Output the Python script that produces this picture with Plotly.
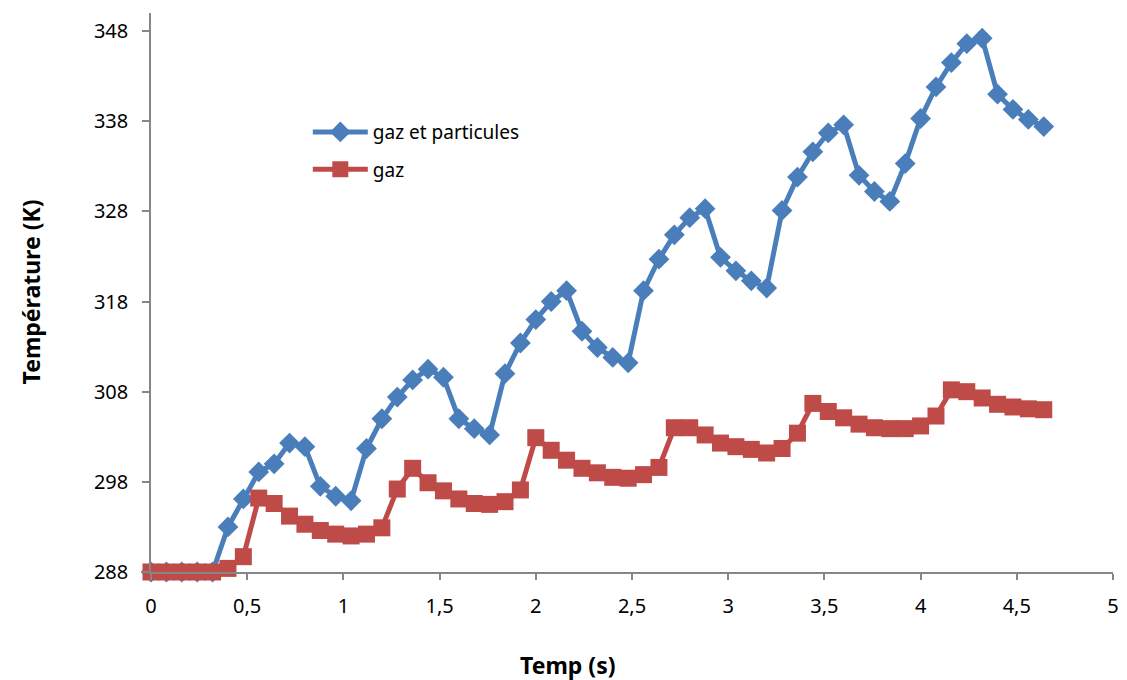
import plotly.graph_objects as go

time_s = [0.00, 0.08, 0.16, 0.24, 0.32, 0.40, 0.48, 0.56, 0.64, 0.72,
          0.80, 0.88, 0.96, 1.04, 1.12, 1.20, 1.28, 1.36, 1.44, 1.52,
          1.60, 1.68, 1.76, 1.84, 1.92, 2.00, 2.08, 2.16, 2.24, 2.32,
          2.40, 2.48, 2.56, 2.64, 2.72, 2.80, 2.88, 2.96, 3.04, 3.12,
          3.20, 3.28, 3.36, 3.44, 3.52, 3.60, 3.68, 3.76, 3.84, 3.92,
          4.00, 4.08, 4.16, 4.24, 4.32, 4.40, 4.48, 4.56, 4.64]

gaz_particules = [288.0, 288.0, 288.0, 288.0, 288.0, 293.0, 296.1, 299.1, 300.0, 302.3,
                  301.9, 297.5, 296.4, 295.9, 301.7, 305.0, 307.4, 309.3, 310.5, 309.6,
                  305.0, 303.9, 303.2, 310.0, 313.4, 316.0, 318.0, 319.2, 314.7, 312.9,
                  311.8, 311.2, 319.2, 322.7, 325.4, 327.3, 328.3, 322.9, 321.4, 320.3,
                  319.5, 328.1, 331.8, 334.6, 336.7, 337.6, 332.0, 330.2, 329.1, 333.3,
                  338.3, 341.8, 344.5, 346.6, 347.2, 341.0, 339.3, 338.2, 337.4]

gaz = [288.0, 288.0, 288.0, 288.0, 288.0, 288.4, 289.7, 296.2, 295.6, 294.2,
       293.3, 292.6, 292.2, 292.0, 292.2, 292.9, 297.2, 299.5, 297.9, 297.0,
       296.1, 295.6, 295.5, 295.8, 297.1, 302.9, 301.5, 300.4, 299.5, 299.0,
       298.5, 298.4, 298.8, 299.6, 304.0, 304.0, 303.2, 302.3, 301.9, 301.6,
       301.2, 301.7, 303.4, 306.7, 305.8, 305.1, 304.4, 304.0, 303.9, 303.9,
       304.2, 305.3, 308.2, 308.0, 307.3, 306.6, 306.3, 306.1, 306.0]

x_ticks = [0, 0.5, 1, 1.5, 2, 2.5, 3, 3.5, 4, 4.5, 5]
y_ticks = [288, 298, 308, 318, 328, 338, 348]

BLUE = "#4A7EBB"
RED = "#BE4B48"
AXIS = "#868686"
FONT = "Noto Sans"

fig = go.Figure()
fig.add_trace(go.Scatter(
    x=time_s, y=gaz_particules, mode="lines+markers", name="gaz et particules",
    line=dict(color=BLUE, width=5),
    marker=dict(symbol="diamond", size=16, color=BLUE),
    cliponaxis=False, legend="legend",
))
fig.add_trace(go.Scatter(
    x=time_s, y=gaz, mode="lines+markers", name="gaz",
    line=dict(color=RED, width=5),
    marker=dict(symbol="square", size=17, color=RED),
    cliponaxis=False, legend="legend2",
))

# page body has an 8px margin: compensate so the figure matches 1127x680
W, H = 1119, 672
ml, mr, mt, mb = 143, 14, 5, 108
PW, PH = W - ml - mr, H - mt - mb

fig.update_layout(
    width=W, height=H,
    margin=dict(l=ml, r=mr, t=mt, b=mb),
    paper_bgcolor="white", plot_bgcolor="white",
    separators=", ",
    font=dict(family=FONT, size=20, color="black"),
    showlegend=True,
    legend=dict(x=0.163, y=0.787, xanchor="left", yanchor="middle",
                bgcolor="rgba(0,0,0,0)", font=dict(size=19, family=FONT),
                itemwidth=55),
    legend2=dict(x=0.163, y=0.720, xanchor="left", yanchor="middle",
                 bgcolor="rgba(0,0,0,0)", font=dict(size=19, family=FONT),
                 itemwidth=55),
    xaxis=dict(range=[0, 5], tickvals=x_ticks, showgrid=False, zeroline=False,
               showline=True, linecolor=AXIS, linewidth=1.5,
               ticks="outside", ticklen=6, tickcolor=AXIS, tickwidth=1.5,
               ticklabelstandoff=9,
               tickfont=dict(family=FONT, size=20, color="black")),
    yaxis=dict(range=[288, 350], tickvals=y_ticks, showgrid=False, zeroline=False,
               showline=True, linecolor=AXIS, linewidth=1.5,
               ticks="outside", ticklen=7, tickcolor=AXIS, tickwidth=1.5,
               ticklabelstandoff=10,
               tickfont=dict(family=FONT, size=20, color="black")),
    annotations=[
        dict(text="<b>Temp (s)</b>", xref="paper", yref="paper",
             x=(567 - 8 - ml) / PW, y=(H - mb - (665 - 8)) / PH,
             xanchor="center", yanchor="middle", showarrow=False,
             font=dict(family=FONT, size=23, color="black")),
        dict(text="<b>Température (K)</b>", xref="paper", yref="paper",
             x=(30 - 8 - ml) / PW, y=0.5, textangle=-90,
             xanchor="center", yanchor="middle", showarrow=False,
             font=dict(family=FONT, size=23, color="black")),
    ],
)

fig.write_html("out.html")
